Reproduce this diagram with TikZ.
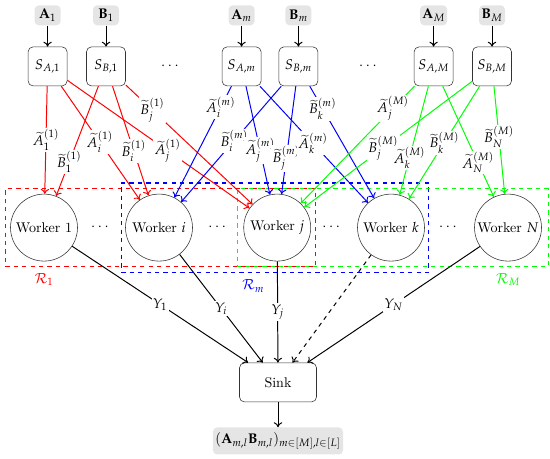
\documentclass[tikz,border=0pt]{standalone}
\usepackage{mathpazo}
\usetikzlibrary{arrows.meta,positioning,fit}

\begin{document}
\begin{tikzpicture}[
    src/.style={draw=black!80,rounded corners=3.5pt,minimum width=0.975cm,minimum height=0.975cm,inner sep=0pt},
    inp/.style={fill=black!10,rounded corners=3pt,minimum width=0.65cm,minimum height=0.5cm,inner sep=1.5pt},
    worker/.style={draw=black!80,circle,minimum size=1.675cm,inner sep=0pt},
    lbl/.style={fill=white,text=black,inner sep=1pt},
    link/.style={-{To[length=3.5pt,width=6pt]},line width=0.7pt},
    region/.style={draw=#1,dashed,thick,inner sep=3.5pt}]
  \useasboundingbox (0,0) rectangle (13.75,11.45);

  % encoders
  \node[src] (sa1) at (1.19,9.79) {$S_{A,1}$};
  \node[src] (sb1) at (2.65,9.79) {$S_{B,1}$};
  \node[src] (sam) at (6.04,9.79) {$S_{A,m}$};
  \node[src] (sbm) at (7.46,9.79) {$S_{B,m}$};
  \node[src] (saM) at (10.84,9.79) {$S_{A,M}$};
  \node[src] (sbM) at (12.3,9.79) {$S_{B,M}$};
  \node (dots1) at (4.25,9.79) {$\cdots$};
  \node (dots2) at (9.2,9.79) {$\cdots$};

  % inputs
  \node[inp,above=0.525cm of sa1] (a1) {$\mathbf{A}_1$};
  \node[inp,above=0.525cm of sb1] (b1) {$\mathbf{B}_1$};
  \node[inp,above=0.525cm of sam] (am) {$\mathbf{A}_m$};
  \node[inp,above=0.525cm of sbm] (bm) {$\mathbf{B}_m$};
  \node[inp,above=0.525cm of saM] (aM) {$\mathbf{A}_M$};
  \node[inp,above=0.525cm of sbM] (bM) {$\mathbf{B}_M$};
  \foreach \i/\s in {a1/sa1,b1/sb1,am/sam,bm/sbm,aM/saM,bM/sbM}
    \draw[link] (\i) -- (\s);

  % workers
  \node[worker] (w1) at (1.1,5.76) {Worker 1};
  \node[worker] (wi) at (3.975,5.76) {Worker $i$};
  \node[worker] (wj) at (6.93,5.76) {Worker $j$};
  \node[worker] (wk) at (9.775,5.76) {Worker $k$};
  \node[worker] (wN) at (12.7,5.76) {Worker $N$};
  \node (dots3) at (2.5,5.76) {$\cdots$};
  \node (dots4) at (5.43,5.76) {$\cdots$};
  \node (dots5) at (8.28,5.76) {$\cdots$};
  \node (dots6) at (11.2,5.76) {$\cdots$};

  % groups
  \node[region=red,fit=(w1)(wj)] (r1) {};
  \node[region=blue,fit=(wi)(wk),inner xsep=2.8pt,inner ysep=7.7pt] (rm) {};
  \node[region=green,fit=(wj)(wN),inner xsep=4.5pt] (rM) {};
  \node[red,below=1pt] (lr1) at (r1.south -| w1) {$\mathcal{R}_1$};
  \node[blue] (lrm) at (6.33,4.3) {$\mathcal{R}_m$};
  \node[green,below=1pt] (lrM) at (rM.south -| wN) {$\mathcal{R}_M$};

  % coded shares
  \foreach \f/\t/\p/\l in {
      sa1/w1/0.5/{$\widetilde{A}_1^{(1)}$},
      sb1/w1/0.69/{$\widetilde{B}_1^{(1)}$},
      sa1/wi/0.49/{$\widetilde{A}_i^{(1)}$},
      sb1/wi/0.59/{$\widetilde{B}_i^{(1)}$},
      sa1/wj/0.55/{$\widetilde{A}_j^{(1)}$},
      sb1/wj/0.21/{$\widetilde{B}_j^{(1)}$}}
    \draw[link,red] (\f) -- node[lbl,pos=\p] {\l} (\t);
  \foreach \f/\t/\p/\l in {
      sam/wi/0.19/{$\widetilde{A}_i^{(m)}$},
      sbm/wi/0.47/{$\widetilde{B}_i^{(m)}$},
      sam/wj/0.59/{$\widetilde{A}_j^{(m)}$},
      sbm/wj/0.67/{$\widetilde{B}_j^{(m)}$},
      sam/wk/0.49/{$\widetilde{A}_k^{(m)}$},
      sbm/wk/0.2/{$\widetilde{B}_k^{(m)}$}}
    \draw[link,blue] (\f) -- node[lbl,pos=\p] {\l} (\t);
  \foreach \f/\t/\p/\l in {
      saM/wj/0.19/{$\widetilde{A}_j^{(M)}$},
      sbM/wj/0.53/{$\widetilde{B}_j^{(M)}$},
      saM/wk/0.66/{$\widetilde{A}_k^{(M)}$},
      sbM/wk/0.5/{$\widetilde{B}_k^{(M)}$},
      saM/wN/0.69/{$\widetilde{A}_N^{(M)}$},
      sbM/wN/0.47/{$\widetilde{B}_N^{(M)}$}}
    \draw[link,green] (\f) -- node[lbl,pos=\p] {\l} (\t);

  % decoding
  \node[src,minimum width=1.925cm] (sink) at (6.95,1.89) {Sink};
  \node[inp,below=0.625cm of sink,minimum width=3.2cm,minimum height=0.675cm] (out)
    {$(\mathbf{A}_{m,l}\mathbf{B}_{m,l})_{m\in[M],l\in[L]}$};
  \draw[link] (w1) -- node[lbl] {$Y_1$} (sink);
  \draw[link] (wi) -- node[lbl] {$Y_i$} (sink);
  \draw[link] (wj) -- node[lbl] {$Y_j$} (sink);
  \draw[link,dashed] (wk) -- (sink);
  \draw[link] (wN) -- node[lbl] {$Y_N$} (sink);
  \draw[link] (sink) -- (out);
\end{tikzpicture}
\end{document}
